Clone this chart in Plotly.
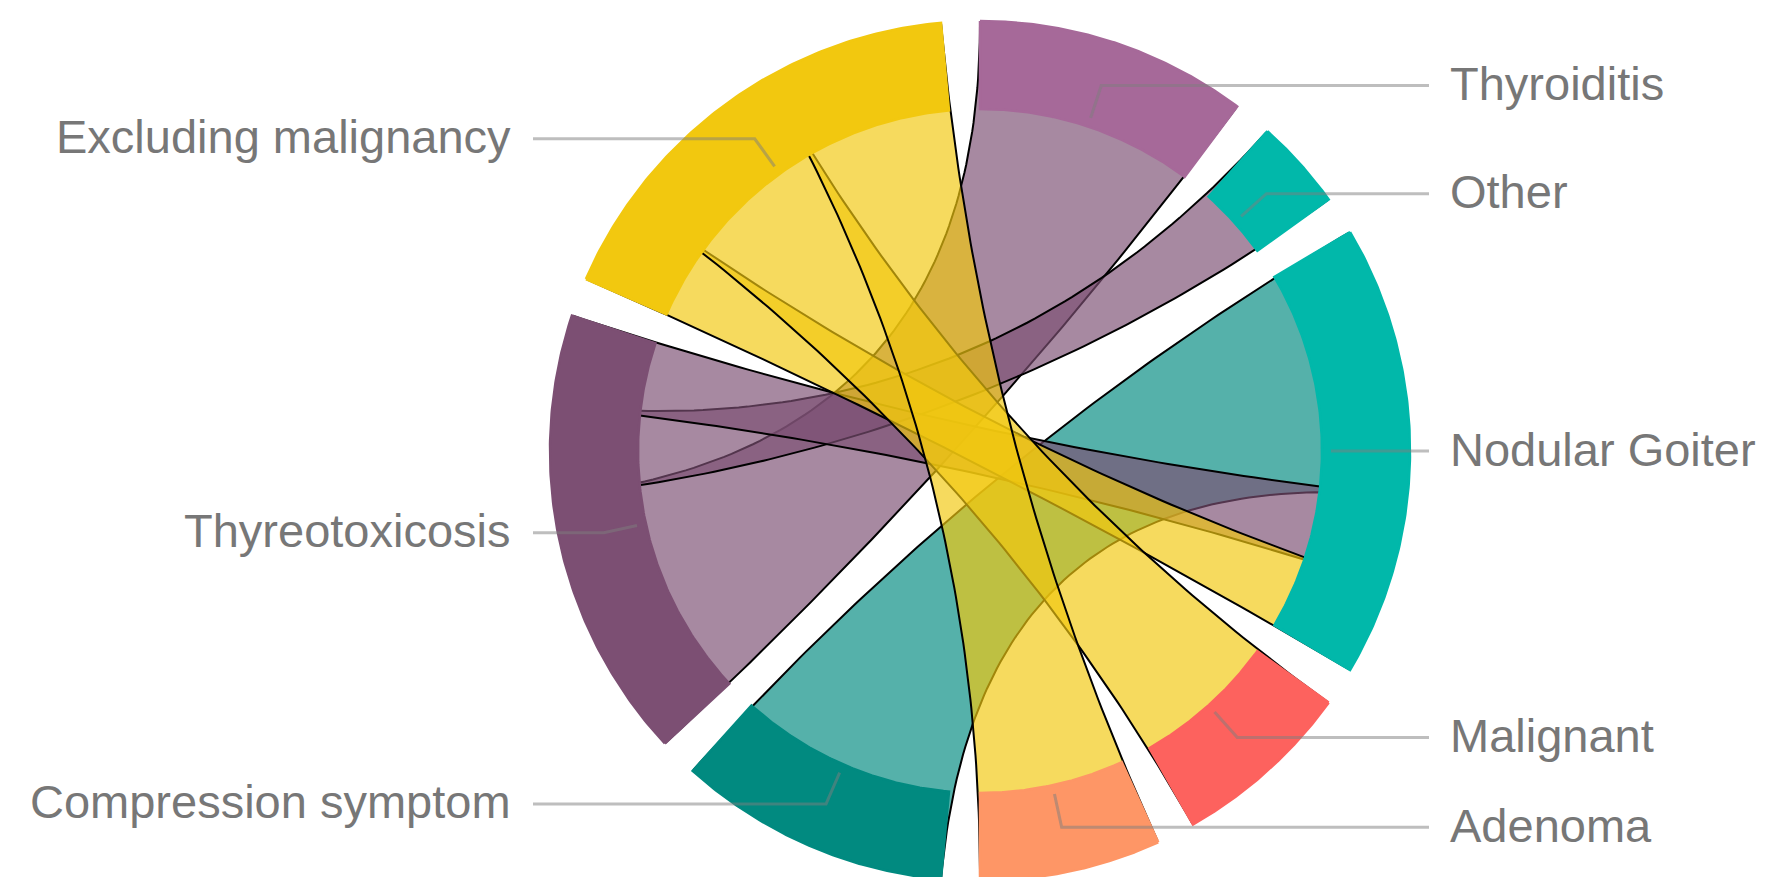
import numpy as np
import plotly.graph_objects as go

# ---------------- data ----------------
groups = ["Thyroiditis", "Other", "Nodular Goiter", "Malignant", "Adenoma",
          "Compression symptom", "Thyreotoxicosis", "Excluding malignancy"]
group_colors = ["#A66999", "#01B8AA", "#01B8AA", "#FD625E", "#FE9666",
                "#018A80", "#7C4F73", "#F2C80F"]

link_source = ["Thyreotoxicosis", "Thyreotoxicosis", "Compression symptom",
               "Thyreotoxicosis", "Excluding malignancy", "Excluding malignancy",
               "Excluding malignancy"]
link_target = ["Thyroiditis", "Other", "Nodular Goiter", "Nodular Goiter",
               "Nodular Goiter", "Malignant", "Adenoma"]
link_value = [3, 1, 3, 1, 1, 2, 2]

# ---------------- style ----------------
W, H = 1766, 877
BODY = 8                      # default page margin of the html body
CX, CY = 980 - BODY, 451 - BODY   # circle centre inside the plot div
R_OUT, R_IN = 430, 342
R_RIB = R_OUT - 2
PAD = np.radians(5.2)
RIB_ALPHA = 0.67
FONT = "Liberation Sans, Arial, sans-serif"


def hex_rgba(h, a):
    h = h.lstrip("#")
    return "rgba(%d,%d,%d,%.3f)" % (int(h[0:2], 16), int(h[2:4], 16), int(h[4:6], 16), a)


def pt(r, a):
    return r * np.sin(a), r * np.cos(a)


def arc(r, a0, a1, n=60):
    a = np.linspace(a0, a1, n)
    return list(r * np.sin(a)), list(r * np.cos(a))


def bez(p0, p1, n=90):
    t = np.linspace(0, 1, n)
    x = (1 - t) ** 2 * p0[0] + t ** 2 * p1[0]
    y = (1 - t) ** 2 * p0[1] + t ** 2 * p1[1]
    return list(x), list(y)


# ---------------- chord layout (d3-like) ----------------
n = len(groups)
idx = {g: i for i, g in enumerate(groups)}
M = np.zeros((n, n))
for s, t, v in zip(link_source, link_target, link_value):
    M[idx[s], idx[t]] += v
    M[idx[t], idx[s]] += v
total = M.sum()
k = (2 * np.pi - n * PAD) / total

sub = {}
gang = []
x = 0.0
for i in range(n):
    x0 = x
    for j in range(n):
        if M[i, j] > 0:
            sub[(i, j)] = (x, x + M[i, j] * k)
            x += M[i, j] * k
    gang.append((x0, x))
    x += PAD

link_color = {}
for s, t in zip(link_source, link_target):
    link_color[frozenset((idx[s], idx[t]))] = group_colors[idx[s]]

fig = go.Figure()

# ribbons
for i in range(n):
    for j in range(i + 1, n):
        if M[i, j] <= 0:
            continue
        s0, s1 = sub[(i, j)]
        t0, t1 = sub[(j, i)]
        xs, ys = [], []
        ax, ay = arc(R_RIB, s0, s1); xs += ax; ys += ay
        bx, by = bez(pt(R_RIB, s1), pt(R_RIB, t0)); xs += bx; ys += by
        ax, ay = arc(R_RIB, t0, t1); xs += ax; ys += ay
        bx, by = bez(pt(R_RIB, t1), pt(R_RIB, s0)); xs += bx; ys += by
        xs.append(xs[0]); ys.append(ys[0])
        col = link_color[frozenset((i, j))]
        fig.add_trace(go.Scatter(x=xs, y=ys, mode="lines", fill="toself",
                                 fillcolor=hex_rgba(col, RIB_ALPHA),
                                 line=dict(color="black", width=2),
                                 hoverinfo="skip", showlegend=False))

# outer ring (opaque, drawn over the ribbon ends)
for i in range(n):
    a0, a1 = gang[i]
    ox, oy = arc(R_OUT, a0, a1, 120)
    ix, iy = arc(R_IN, a1, a0, 120)
    xs = ox + ix + [ox[0]]
    ys = oy + iy + [oy[0]]
    fig.add_trace(go.Scatter(x=xs, y=ys, mode="lines", fill="toself",
                             fillcolor=group_colors[i],
                             line=dict(color=group_colors[i], width=2.5),
                             hoverinfo="skip", showlegend=False))

# leaders & labels
annotations = []
for i in range(n):
    a0, a1 = gang[i]
    am = (a0 + a1) / 2
    p1 = pt(351, am)
    p2 = pt(385, am)
    right = np.sin(am) > 0
    xend = 449 if right else -447
    fig.add_trace(go.Scatter(x=[p1[0], p2[0], xend], y=[p1[1], p2[1], p2[1]],
                             mode="lines", line=dict(color="rgba(125,125,125,0.5)", width=3),
                             hoverinfo="skip", showlegend=False))
    annotations.append(dict(x=(468 if right else -467), y=p2[1], text=groups[i],
                            xref="x", yref="y", showarrow=False, yshift=2,
                            xanchor="left" if right else "right", yanchor="middle",
                            font=dict(family=FONT, size=47, color="#777777")))

fig.update_layout(
    width=W, height=H, margin=dict(l=0, r=0, t=0, b=0),
    paper_bgcolor="white", plot_bgcolor="white",
    xaxis=dict(range=[-CX, W - CX], visible=False, showgrid=False, zeroline=False, fixedrange=True),
    yaxis=dict(range=[CY - H, CY], visible=False, showgrid=False, zeroline=False, fixedrange=True),
    annotations=annotations, showlegend=False, hovermode=False,
)

fig.write_html("out.html")
